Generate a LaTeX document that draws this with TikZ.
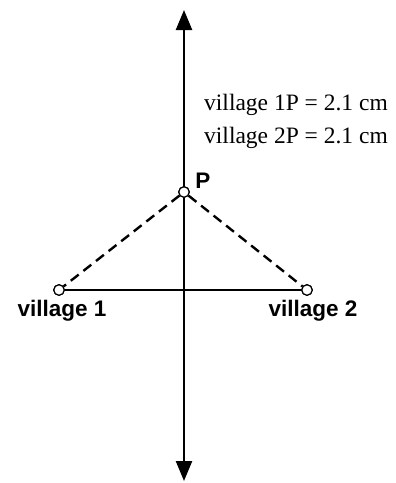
\documentclass[tikz,border=0pt]{standalone}
\usepackage{fontspec}
\setmainfont{Liberation Serif}
\newfontfamily\labelfont{Liberation Sans}
\usetikzlibrary{arrows.meta}
\tikzset{
  axis/.style={line width=2.4pt, -{Triangle[width=16pt,length=20pt]}},
  link/.style={line width=2.4pt},
  dashlink/.style={line width=2.4pt, dash pattern=on 10pt off 6pt},
  pt/.style={circle, draw, fill=white, line width=1.2pt, minimum size=10.5pt, inner sep=0pt},
  lab/.style={font=\labelfont\bfseries\fontsize{22.5}{24}\selectfont, inner sep=0pt},
  info/.style={font=\fontsize{23.5}{28}\selectfont, inner sep=0pt, anchor=base west}
}
\begin{document}
\begin{tikzpicture}[x=1pt,y=-1pt]
\useasboundingbox (0,0) rectangle (396,483);
\coordinate (top) at (184,10);
\coordinate (bot) at (184,481);
\coordinate (mid) at (184,300);
\node[pt] (P) at (184,192) {};
\node[pt] (v1) at (59,290) {};
\node[pt] (v2) at (307,290) {};
\draw[axis] (mid) -- (top);
\draw[axis] (mid) -- (bot);
\draw[link] (v1) -- (v2);
\draw[dashlink] (P) -- (v1);
\draw[dashlink] (P) -- (v2);
\node[pt] at (P) {};
\node[pt] at (v1) {};
\node[pt] at (v2) {};
\node[lab, anchor=base] (lP) at (203,188) {P};
\node[lab, anchor=base] (l1) at (62,316) {village 1};
\node[lab, anchor=base] (l2) at (313,316) {village 2};
\node[info] (t1) at (204,110) {village 1P = 2.1 cm};
\node[info] (t2) at (204,143) {village 2P = 2.1 cm};
\end{tikzpicture}
\end{document}
